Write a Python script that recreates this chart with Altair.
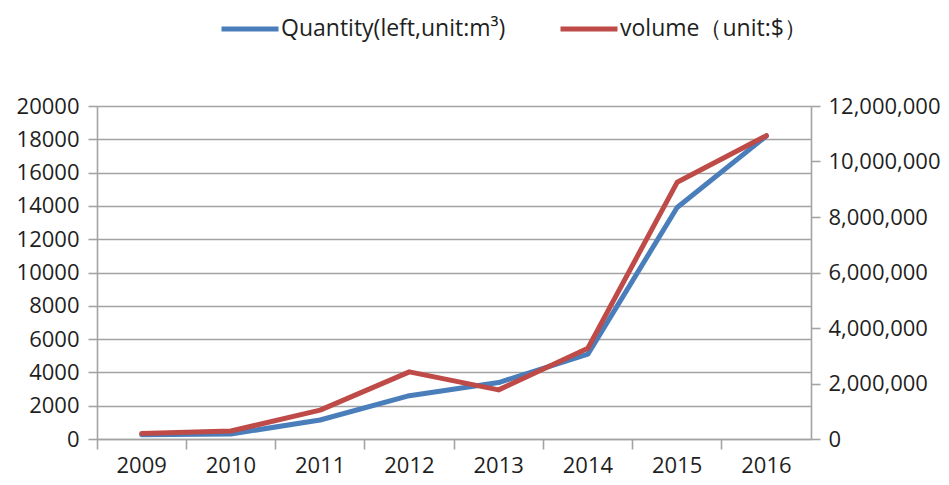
import altair as alt
import pandas as pd

years = ["2009", "2010", "2011", "2012", "2013", "2014", "2015", "2016"]
quantity = [250, 300, 1140, 2600, 3390, 5100, 13900, 18200]
volume = [200000, 290000, 1040000, 2420000, 1770000, 3270000, 9250000, 10930000]
series_names = ["Quantity(left,unit:m³)", "volume（unit:$）"]
series_colors = ["#4A7EBB", "#BE4B48"]
left_ticks = list(range(0, 20001, 2000))
right_ticks = list(range(0, 12000001, 2000000))

df_q = pd.DataFrame({"year": years, "value": quantity, "series": series_names[0]})
df_v = pd.DataFrame({"year": years, "value": volume, "series": series_names[1]})

W, H = 714, 333
FONT = "Open Sans"
GRID = "#A3A3A3"
TXT = "#1F1F1F"

color = alt.Color(
    "series:N",
    scale=alt.Scale(domain=series_names, range=series_colors),
    legend=alt.Legend(
        title=None,
        orient="none",
        direction="horizontal",
        columns=2,
        legendX=122,
        legendY=-108,
        symbolType="stroke",
        symbolSize=3249,
        symbolStrokeWidth=5,
        labelFont=FONT,
        labelFontSize=23,
        labelColor=TXT,
        labelOffset=0,
        labelLimit=500,
        columnPadding=44,
        padding=0,
    ),
)

xenc = alt.X(
    "year:O",
    sort=years,
    bandPosition=0.5,
    scale=alt.Scale(type="band", paddingInner=0, paddingOuter=0),
    axis=alt.Axis(
        title=None,
        bandPosition=0,
        labelAngle=0,
        labelFont=FONT,
        labelFontSize=22,
        labelColor=TXT,
        labelPadding=6,
        tickSize=10,
        tickColor=GRID,
        tickWidth=1.6,
        domainColor=GRID,
        domainWidth=1.6,
        grid=False,
    ),
)

left = alt.Chart(df_q).mark_line(strokeWidth=5, strokeJoin="round", strokeCap="round").encode(
    x=xenc,
    y=alt.Y(
        "value:Q",
        scale=alt.Scale(domain=[0, 20000], nice=False, zero=True),
        axis=alt.Axis(
            title=None,
            orient="left",
            values=left_ticks,
            format="d",
            grid=True,
            gridColor=GRID,
            gridWidth=1.6,
            labelFont=FONT,
            labelFontSize=22,
            labelColor=TXT,
            tickSize=9,
            labelPadding=9,
            tickColor=GRID,
            tickWidth=1.6,
            domainColor=GRID,
            domainWidth=1.6,
        ),
    ),
    color=color,
)

right = alt.Chart(df_v).mark_line(strokeWidth=5, strokeJoin="round", strokeCap="round").encode(
    x=xenc,
    y=alt.Y(
        "value:Q",
        scale=alt.Scale(domain=[0, 12000000], nice=False, zero=True),
        axis=alt.Axis(
            title=None,
            orient="right",
            values=right_ticks,
            format=",d",
            grid=False,
            labelFont=FONT,
            labelFontSize=22,
            labelColor=TXT,
            tickSize=9,
            labelPadding=8,
            tickColor=GRID,
            tickWidth=1.6,
            domainColor=GRID,
            domainWidth=1.6,
        ),
    ),
    color=color,
)

chart = (
    alt.layer(left, right)
    .resolve_scale(y="independent")
    .properties(
        width=W,
        height=H,
        autosize=alt.AutoSizeParams(type="none"),
        padding={"left": 89, "top": 98, "right": 130, "bottom": 38},
        background="white",
    )
    .configure_view(stroke=None)
)

chart.save("out.html", embed_options={"renderer": "svg", "actions": False})
